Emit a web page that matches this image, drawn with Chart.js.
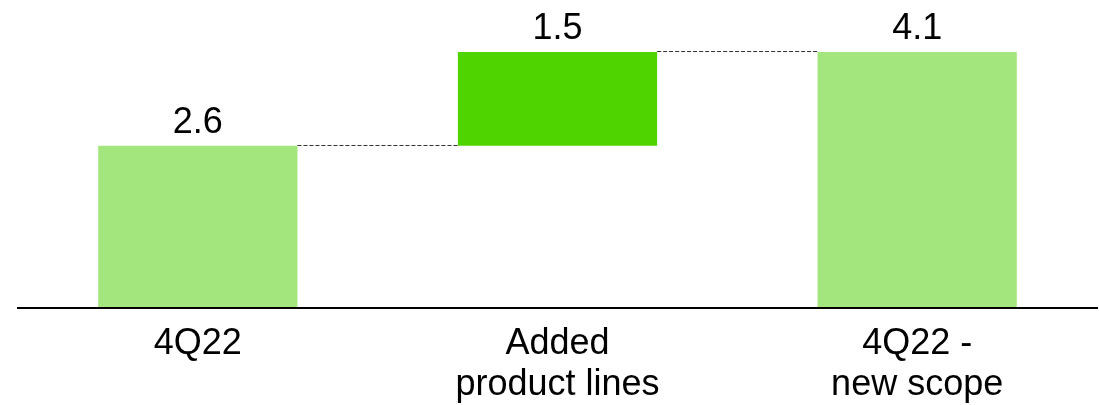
<!DOCTYPE html>
<html>
<head>
<meta charset="utf-8">
<script src="https://cdn.jsdelivr.net/npm/chart.js@4/dist/chart.umd.min.js"></script>
<style>
  html, body { margin: 0; padding: 0; background: #fff; }
  #wrap { position: relative; width: 1099px; height: 405px; }
</style>
</head>
<body>
<div id="wrap"><canvas id="bridge"></canvas></div>
<script>
'use strict';

const categories = [['4Q22'], ['Added', 'product lines'], ['4Q22 -', 'new scope']];
const values     = [2.6, 1.5, 4.1];
const barKinds   = ['total', 'delta', 'total'];

const KIND_COLOR = { total: '#a3e67d', delta: '#50d400' };
const FONT = '"Liberation Sans", Arial, sans-serif';

// floating bars: totals start at zero, deltas start at the running sum
function buildRanges() {
  let running = 0;
  return values.map((v, i) => {
    if (barKinds[i] === 'total') { running = v; return [0, v]; }
    const r = [running, running + v];
    running += v;
    return r;
  });
}

const ranges = buildRanges();

const bridgeExtras = {
  id: 'bridgeExtras',
  afterDatasetsDraw(chart) {
    const { ctx } = chart;
    const bars = chart.getDatasetMeta(0).data;
    const y = chart.scales.y;

    // dashed connectors between neighbouring bars
    ctx.save();
    ctx.strokeStyle = '#333';
    ctx.lineWidth = 1;
    ctx.setLineDash([4, 2]);
    for (let i = 0; i < bars.length - 1; i++) {
      const level = ranges[i][1];
      const py = Math.round(y.getPixelForValue(level)) - 0.5;
      const x0 = bars[i].x + bars[i].width / 2;
      const x1 = bars[i + 1].x - bars[i + 1].width / 2;
      ctx.beginPath();
      ctx.moveTo(x0, py);
      ctx.lineTo(x1, py);
      ctx.stroke();
    }
    ctx.restore();

    // value labels above each bar
    ctx.save();
    ctx.fillStyle = '#000';
    ctx.font = `36px ${FONT}`;
    ctx.textAlign = 'center';
    ctx.textBaseline = 'alphabetic';
    bars.forEach((bar, i) => {
      const top = Math.min(bar.y, bar.base);
      ctx.fillText(values[i].toFixed(1), bar.x, top - 13);
    });
    ctx.restore();
  },
};

new Chart(document.getElementById('bridge'), {
  type: 'bar',
  data: {
    labels: categories,
    datasets: [{
      data: ranges,
      backgroundColor: barKinds.map(k => KIND_COLOR[k]),
      borderWidth: 0,
      borderSkipped: false,
      categoryPercentage: 1,
      barPercentage: 0.554,
    }],
  },
  options: {
    responsive: true,
    maintainAspectRatio: false,
    animation: false,
    layout: { padding: { top: 2, left: 18, right: 2, bottom: 0 } },
    plugins: {
      legend: { display: false },
      tooltip: { enabled: false },
    },
    scales: {
      x: {
        grid: { display: false, drawTicks: false },
        border: { display: true, color: '#000', width: 2, z: 1 },
        ticks: {
          color: '#000',
          padding: 15,
          maxRotation: 0,
          autoSkip: false,
          font: { family: FONT, size: 36, lineHeight: 1.15 },
        },
        afterFit: scale => { scale.height = 97; },
      },
      y: {
        display: false,
        min: 0,
        max: 4.9,
      },
    },
  },
  plugins: [bridgeExtras],
});
</script>
</body>
</html>
